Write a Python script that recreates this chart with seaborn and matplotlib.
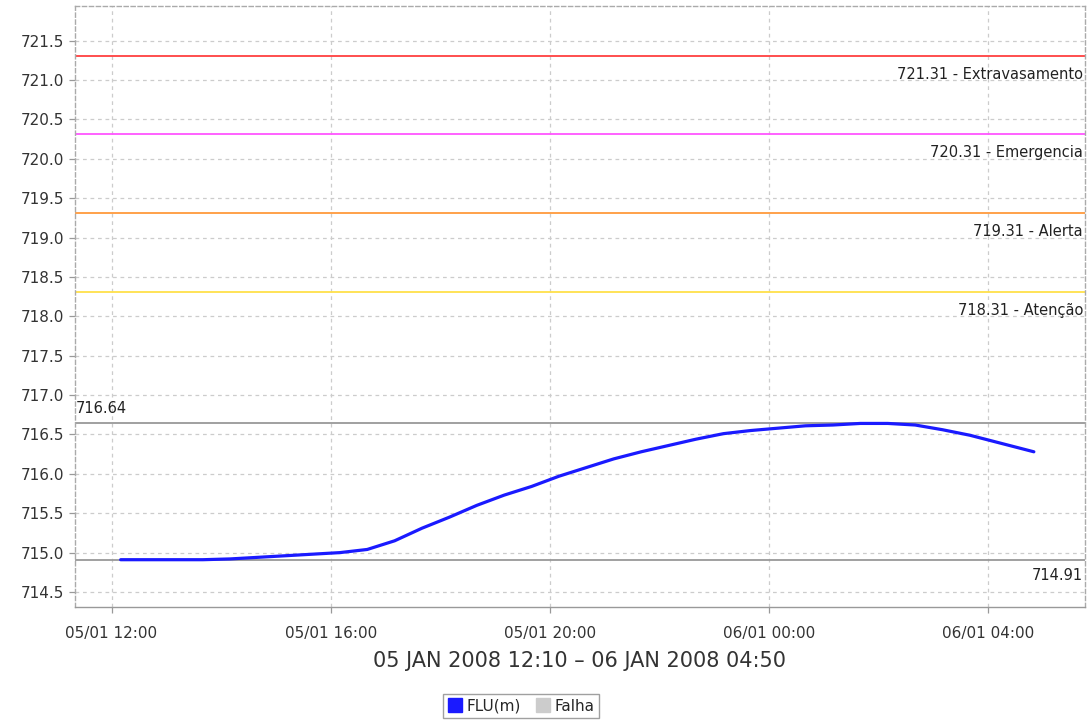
import matplotlib
matplotlib.use("Agg")
import matplotlib.pyplot as plt
import matplotlib.dates as mdates
import seaborn as sns
import pandas as pd
from matplotlib.lines import Line2D

sns.set_theme(style="white")
plt.rcParams['font.family'] = ['DejaVu Sans']

times = ["2008-01-05 12:10", "2008-01-05 12:40", "2008-01-05 13:10", "2008-01-05 13:40",
         "2008-01-05 14:10", "2008-01-05 14:40", "2008-01-05 15:10", "2008-01-05 15:40",
         "2008-01-05 16:10", "2008-01-05 16:40", "2008-01-05 17:10", "2008-01-05 17:40",
         "2008-01-05 18:10", "2008-01-05 18:40", "2008-01-05 19:10", "2008-01-05 19:40",
         "2008-01-05 20:10", "2008-01-05 20:40", "2008-01-05 21:10", "2008-01-05 21:40",
         "2008-01-05 22:10", "2008-01-05 22:40", "2008-01-05 23:10", "2008-01-05 23:40",
         "2008-01-06 00:10", "2008-01-06 00:40", "2008-01-06 01:10", "2008-01-06 01:40",
         "2008-01-06 02:10", "2008-01-06 02:40", "2008-01-06 03:10", "2008-01-06 03:40",
         "2008-01-06 04:10", "2008-01-06 04:40", "2008-01-06 04:50"]
flu = [714.91, 714.91, 714.91, 714.91, 714.92, 714.94, 714.96, 714.98,
       715.00, 715.04, 715.15, 715.31, 715.45, 715.60, 715.73, 715.84,
       715.97, 716.08, 716.19, 716.28, 716.36, 716.44, 716.51, 716.55,
       716.58, 716.61, 716.62, 716.64, 716.64, 716.62, 716.56, 716.49,
       716.40, 716.31, 716.28]

thr_values = [721.31, 720.31, 719.31, 718.31]
thr_labels = ["721.31 - Extravasamento", "720.31 - Emergencia", "719.31 - Alerta", "718.31 - Atenção"]
thr_colors = ["#ff4040", "#ff55ff", "#ff9a3c", "#ffe04a"]
max_val, min_val = 716.64, 714.91

df = pd.DataFrame({"t": pd.to_datetime(times), "FLU(m)": flu})

fig = plt.figure(figsize=(10.9, 7.25), dpi=100)
ax = fig.add_axes([0.0688, 0.1628, 0.9266, 0.829])

for v, lab, c in zip(thr_values, thr_labels, thr_colors):
    ax.axhline(v, color=c, lw=1.3, zorder=2)
    ax.text(0.998, v - 0.14, lab, transform=ax.get_yaxis_transform(), ha="right", va="top",
            fontsize=10.5, color="#222222")
ax.axhline(max_val, color="#999999", lw=1.3, zorder=2)
ax.axhline(min_val, color="#999999", lw=1.3, zorder=2)
ax.text(0.001, max_val + 0.1, f"{max_val:.2f}", transform=ax.get_yaxis_transform(),
        ha="left", va="bottom", fontsize=10.5, color="#222222")
ax.text(0.998, min_val - 0.1, f"{min_val:.2f}", transform=ax.get_yaxis_transform(),
        ha="right", va="top", fontsize=10.5, color="#222222")

sns.lineplot(data=df, x="t", y="FLU(m)", ax=ax, color="#1a1aff", lw=2.3, zorder=3)

ax.set_xlim(pd.Timestamp("2008-01-05 11:20"), pd.Timestamp("2008-01-06 05:46"))
ax.set_ylim(714.31, 721.94)
ax.set_yticks([714.5 + 0.5 * i for i in range(15)])
ax.yaxis.set_major_formatter(matplotlib.ticker.FormatStrFormatter("%.1f"))
ax.xaxis.set_major_locator(mdates.HourLocator(byhour=[0, 4, 8, 12, 16, 20]))
ax.xaxis.set_major_formatter(mdates.DateFormatter("%d/%m %H:%M"))

ax.grid(True, color="#cccccc", ls=(0, (3, 3)), lw=0.9)
for s in ax.spines.values():
    s.set_color("#aaaaaa")
    s.set_linestyle((0, (3, 2)))
    s.set_linewidth(1.0)
ax.spines["bottom"].set_linestyle("-")
ax.spines["bottom"].set_color("#999999")
ax.tick_params(axis="both", which="both", direction="out", length=4, width=0.9,
               color="#999999", labelsize=11, labelcolor="#333333", left=True, bottom=True)
ax.tick_params(axis="x", pad=10)
ax.set_ylabel("")
ax.set_xlabel("05 JAN 2008 12:10 – 06 JAN 2008 04:50", fontsize=15, color="#333333", labelpad=7)

handles = [Line2D([], [], marker="s", ls="", color="#1a1aff", markersize=10),
           Line2D([], [], marker="s", ls="", color="#cccccc", markersize=10)]
leg = fig.legend(handles, ["FLU(m)", "Falha"], loc="center", bbox_to_anchor=(0.478, 0.026),
                 ncol=2, frameon=True, fontsize=11, handletextpad=0.2, columnspacing=1.0,
                 fancybox=False, borderpad=0.3, handlelength=1.0)
leg.get_frame().set_edgecolor("#888888")
leg.get_frame().set_linewidth(1.0)

fig.savefig("out.png", dpi=100)
